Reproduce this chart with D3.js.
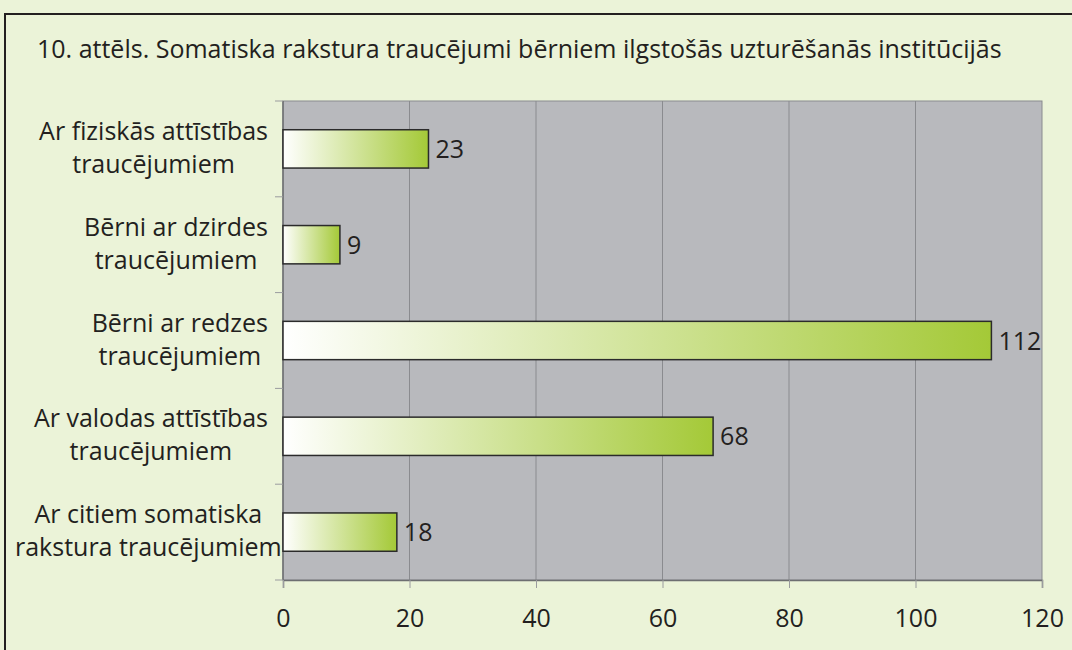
<!DOCTYPE html>
<html>
<head>
<meta charset="utf-8">
<script src="https://cdn.jsdelivr.net/npm/d3@7"></script>
<style>
  body { margin: 0; background: #ebf3d8; }
  svg { display: block; font-family: "Open Sans", "Noto Sans", sans-serif; }
</style>
</head>
<body>
<svg id="chart" width="1072" height="650"></svg>
<script>
const chartTitle = '10. attēls. Somatiska rakstura traucējumi bērniem ilgstošās uzturēšanās institūcijās';
const categories = [
  ['Ar fiziskās attīstības', 'traucējumiem'],
  ['Bērni ar dzirdes', 'traucējumiem'],
  ['Bērni ar redzes', 'traucējumiem'],
  ['Ar valodas attīstības', 'traucējumiem'],
  ['Ar citiem somatiska', 'rakstura traucējumiem']
];
const values = [23, 9, 112, 68, 18];
const xTicks = [0, 20, 40, 60, 80, 100, 120];

const fontSize = 25;
const svg = d3.select('#chart');

// outer frame
svg.append('rect')
  .attr('x', 5).attr('y', 14)
  .attr('width', 1100).attr('height', 700)
  .attr('fill', '#ebf3d8')
  .attr('stroke', '#231f20').attr('stroke-width', 2);

svg.append('text')
  .attr('x', 37).attr('y', 58)
  .attr('font-size', fontSize)
  .attr('fill', '#231f20')
  .text(chartTitle);

const plotL = 283, plotR = 1042, plotT = 101, plotB = 580;

const x = d3.scaleLinear().domain([0, 120]).range([plotL, plotR]);
const y = d3.scaleBand()
  .domain(d3.range(categories.length))
  .range([plotT, plotB])
  .paddingInner(0.6)
  .paddingOuter(0.3);

const grad = svg.append('defs').append('linearGradient')
  .attr('id', 'barGrad')
  .attr('x1', '0%').attr('x2', '100%').attr('y1', '0%').attr('y2', '0%');
grad.append('stop').attr('offset', '0%').attr('stop-color', '#ffffff');
grad.append('stop').attr('offset', '100%').attr('stop-color', '#a4c937');

// plot area
svg.append('rect')
  .attr('x', plotL).attr('y', plotT)
  .attr('width', plotR - plotL).attr('height', plotB - plotT)
  .attr('fill', '#b8b9bd')
  .attr('stroke', '#8a8b8f').attr('stroke-width', 1);

svg.append('g')
  .selectAll('line')
  .data(xTicks.slice(1, -1))
  .enter()
  .append('line')
  .attr('x1', d => x(d)).attr('x2', d => x(d))
  .attr('y1', plotT).attr('y2', plotB)
  .attr('stroke', '#8a8b8f').attr('stroke-width', 1);

// x axis
const xAxis = svg.append('g')
  .attr('transform', `translate(0,${plotB})`)
  .call(d3.axisBottom(x).tickValues(xTicks).tickSize(8).tickPadding(21));
xAxis.select('.domain').attr('stroke', '#6d6e71').attr('stroke-width', 1.5);
xAxis.selectAll('.tick line').attr('stroke', '#9a9b9e');
xAxis.selectAll('.tick text')
  .attr('font-size', fontSize)
  .attr('font-family', '"Open Sans", "Noto Sans", sans-serif')
  .attr('fill', '#231f20');

// y axis: ticks on category boundaries
const step = y.step();
const boundaries = d3.range(categories.length + 1).map(i => plotT + i * step);
svg.append('line')
  .attr('x1', plotL).attr('x2', plotL)
  .attr('y1', plotT).attr('y2', plotB)
  .attr('stroke', '#6d6e71').attr('stroke-width', 1.5);
svg.append('g')
  .selectAll('line')
  .data(boundaries)
  .enter()
  .append('line')
  .attr('x1', plotL - 8).attr('x2', plotL)
  .attr('y1', d => d).attr('y2', d => d)
  .attr('stroke', '#9a9b9e');

// bars
svg.append('g')
  .selectAll('rect')
  .data(values)
  .enter()
  .append('rect')
  .attr('x', x(0))
  .attr('y', (d, i) => y(i))
  .attr('width', d => x(d) - x(0))
  .attr('height', y.bandwidth())
  .attr('fill', 'url(#barGrad)')
  .attr('stroke', '#2b2b2b').attr('stroke-width', 1.5);

svg.append('g')
  .selectAll('text')
  .data(values)
  .enter()
  .append('text')
  .attr('x', d => x(d) + 7)
  .attr('y', (d, i) => y(i) + y.bandwidth() / 2 + 9)
  .attr('font-size', fontSize)
  .attr('fill', '#231f20')
  .text(d => d);

// category labels: lines centred on each other, block right-aligned to axis
const labelRight = 268, labelMinLeft = 15;
categories.forEach((lines, i) => {
  const g = svg.append('g');
  const texts = lines.map((line, j) => g.append('text')
    .attr('y', y(i) + y.bandwidth() / 2 - 9 + j * 33)
    .attr('font-size', fontSize)
    .attr('fill', '#231f20')
    .attr('text-anchor', 'middle')
    .text(line));
  const maxW = d3.max(texts, t => t.node().getComputedTextLength());
  const cx = Math.max(labelRight - maxW / 2, labelMinLeft + maxW / 2);
  texts.forEach(t => t.attr('x', cx));
});
</script>
</body>
</html>
